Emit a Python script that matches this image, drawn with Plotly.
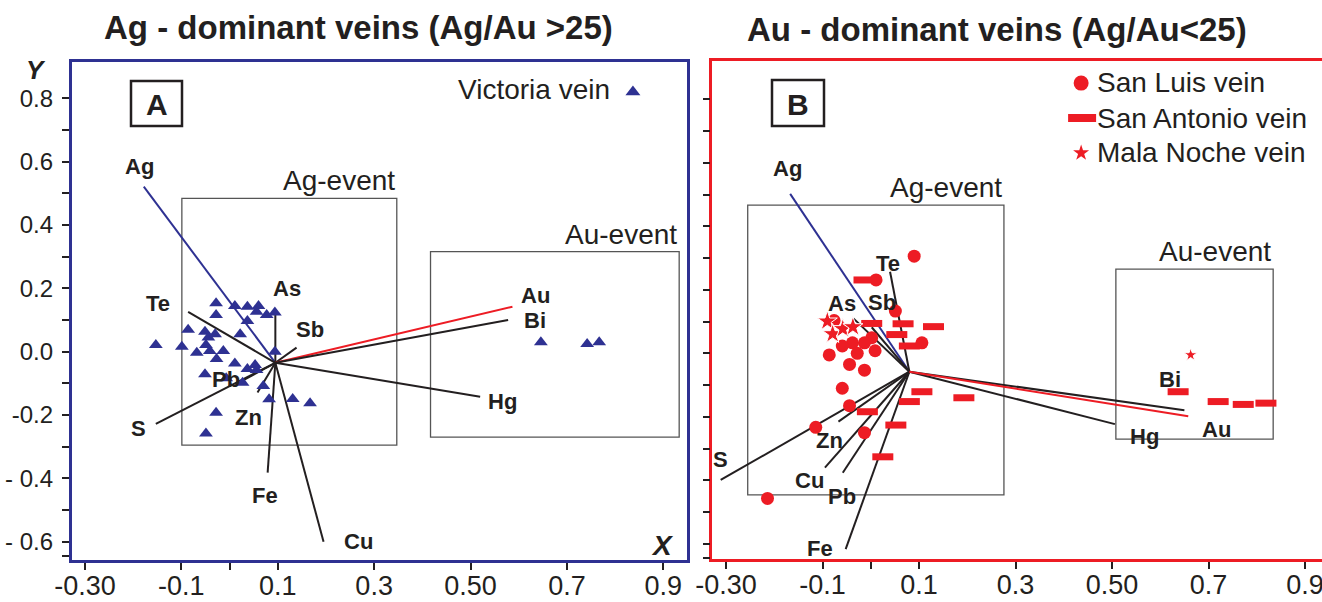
import plotly.graph_objects as go

W, H = 1322, 602
FONT = "Arial, Liberation Sans, sans-serif"
BLUE = "#2e3192"
RED = "#ed1c24"
INK = "#231f20"
BOXGREY = "#555555"

# ---------------- Panel A: Ag-dominant veins (Victoria vein) ----------------
victoria_x = [-0.153, -0.099, -0.086, -0.051, -0.044, -0.030, -0.028, -0.028, 0.011, 0.037,
              0.060, 0.056, 0.077, 0.094, 0.037, 0.022, -0.068, -0.041, -0.013, -0.049,
              -0.027, 0.011, 0.037, 0.053, 0.056, 0.094, -0.051, -0.007, 0.027, 0.070,
              0.082, 0.131, 0.167, -0.028, -0.049, 0.646, 0.742, 0.767]
victoria_y = [0.021, 0.016, 0.069, 0.063, 0.045, 0.055, 0.153, 0.116, 0.144, 0.142,
              0.144, 0.126, 0.116, 0.124, 0.097, 0.055, -0.003, 0.002, 0.002, 0.021,
              -0.023, -0.037, -0.055, -0.042, -0.058, 0.000, -0.071, -0.084, -0.098, -0.108,
              -0.150, -0.149, -0.163, -0.193, -0.258, 0.030, 0.024, 0.030]

# element loadings (vector tips) drawn from a common origin
a_origin = (0.095, -0.035)
a_elements = ["Ag", "Te", "As", "Sb", "Au", "Bi", "Hg", "Cu", "Fe", "Zn", "Pb", "S"]
a_tip_x = [-0.178, -0.086, 0.095, 0.139, 0.587, 0.578, 0.520, 0.195, 0.079, 0.058, 0.022, -0.153]
a_tip_y = [0.521, 0.126, 0.126, 0.013, 0.142, 0.100, -0.142, -0.600, -0.382, -0.129, -0.095, -0.228]
a_label_x = [-0.186, -0.148, 0.120, 0.167, 0.634, 0.634, 0.567, 0.267, 0.074, 0.040, -0.007, -0.189]
a_label_y = [0.586, 0.153, 0.200, 0.069, 0.176, 0.100, -0.158, -0.600, -0.455, -0.208, -0.089, -0.244]

# event fields [x0, x1, y0, y1]
a_ag_event = [-0.099, 0.347, -0.295, 0.484]
a_au_event = [0.417, 0.933, -0.270, 0.316]

# ---------------- Panel B: Au-dominant veins ----------------
san_luis_x = [0.090, 0.011, 0.051, -0.076, 0.002, -0.038, -0.013, -0.059, 0.009, -0.028,
              -0.086, 0.106, -0.044, -0.013, -0.059, -0.044, -0.114, -0.013, -0.214]
san_luis_y = [0.306, 0.231, 0.133, 0.103, 0.049, 0.033, 0.033, 0.023, 0.008, 0.000,
              -0.005, 0.033, -0.035, -0.053, -0.110, -0.165, -0.233, -0.250, -0.457]

san_antonio_x = [-0.014, 0.002, 0.067, 0.130, 0.054, 0.080, 0.106, 0.080, -0.007, 0.193,
                 0.052, 0.025, 0.637, 0.720, 0.772, 0.819]
san_antonio_y = [0.231, 0.094, 0.093, 0.084, 0.059, 0.023, -0.121, -0.152, -0.184, -0.140,
                 -0.226, -0.326, -0.121, -0.152, -0.161, -0.157]

mala_noche_x = [-0.090, -0.079, -0.058, -0.037, 0.663]
mala_noche_y = [0.101, 0.061, 0.077, 0.083, -0.005]

b_origin = (0.080, -0.058)
b_elements = ["Ag", "Te", "As", "Sb", "S", "Zn", "Cu", "Pb", "Fe", "Hg", "Bi", "Au"]
b_tip_x = [-0.167, 0.040, -0.036, 0.002, -0.311, -0.067, -0.095, -0.058, -0.052, 0.506, 0.650, 0.658]
b_tip_y = [0.502, 0.257, 0.110, 0.082, -0.399, -0.215, -0.360, -0.376, -0.617, -0.223, -0.179, -0.198]
b_label_x = [-0.173, 0.036, -0.060, 0.023, -0.311, -0.085, -0.126, -0.060, -0.105, 0.567, 0.620, 0.717]
b_label_y = [0.583, 0.283, 0.157, 0.159, -0.336, -0.276, -0.401, -0.452, -0.614, -0.263, -0.084, -0.239]

b_ag_event = [-0.255, 0.276, -0.446, 0.467]
b_au_event = [0.508, 0.834, -0.270, 0.265]

# axis ticks
x_tickvals = [-0.3, -0.1, 0.0, 0.1, 0.3, 0.5, 0.7, 0.9]
x_ticktext = ["-0.30", "-0.1", "", "0.1", "0.3", "0.50", "0.7", "0.9"]
y_tickvals = [0.8, 0.6, 0.4, 0.2, 0.0, -0.2, -0.4, -0.6]
y_ticktext = ["0.8", "0.6", "0.4", "0.2", "0.0", "-0.2", "- 0.4", "- 0.6"]
y_minor = [0.7, 0.5, 0.3, 0.1, -0.1, -0.3, -0.5, -0.645]
b_y_ticks = [0.8, 0.7, 0.6, 0.5, 0.4, 0.3, 0.2, 0.1, 0.0, -0.1, -0.2, -0.3, -0.4, -0.5, -0.6, -0.645]


def vec_color(name):
    if name == "Ag":
        return BLUE
    if name == "Au":
        return RED
    return INK


def px(xp):
    return xp / W


def py(yp):
    return 1 - yp / H


fig = go.Figure()


def paper_text(xp, yp, text, size, xanchor="center", bold=False):
    fig.add_annotation(x=px(xp), y=py(yp), xref="paper", yref="paper",
                       text=f"<b>{text}</b>" if bold else text, showarrow=False,
                       xanchor=xanchor, yanchor="middle",
                       font=dict(family=FONT, size=size, color=INK))


def add_vectors(xa, ya, origin, names, tx, ty, lx, ly):
    for n, ex, ey in zip(names, tx, ty):
        fig.add_trace(go.Scatter(
            x=[origin[0], ex], y=[origin[1], ey], mode="lines",
            line=dict(color=vec_color(n), width=2),
            xaxis=xa, yaxis=ya, showlegend=False, hoverinfo="skip"))
    for n, x, y in zip(names, lx, ly):
        fig.add_annotation(x=x, y=y, xref=xa, yref=ya, text=f"<b>{n}</b>",
                           showarrow=False, xanchor="center", yanchor="middle",
                           font=dict(family=FONT, size=22, color=INK))


def add_event_box(xa, ya, box, label):
    x0, x1, y0, y1 = box
    fig.add_shape(type="rect", x0=x0, x1=x1, y0=y0, y1=y1, xref=xa, yref=ya,
                  line=dict(color=BOXGREY, width=1.3), layer="below")
    fig.add_annotation(x=x1, y=y1, xref=xa, yref=ya, text=label, showarrow=False,
                       xanchor="right", yanchor="bottom", yshift=0,
                       font=dict(family=FONT, size=28, color=INK))


# Panel A
add_event_box("x", "y", a_ag_event, "Ag-event")
add_event_box("x", "y", a_au_event, "Au-event")
add_vectors("x", "y", a_origin, a_elements, a_tip_x, a_tip_y, a_label_x, a_label_y)
fig.add_trace(go.Scatter(x=victoria_x, y=victoria_y, mode="markers", xaxis="x", yaxis="y",
                         marker=dict(symbol="triangle-up", size=12, color=BLUE, opacity=1),
                         showlegend=False, hoverinfo="skip"))

# Panel B
add_event_box("x2", "y2", b_ag_event, "Ag-event")
add_event_box("x2", "y2", b_au_event, "Au-event")
add_vectors("x2", "y2", b_origin, b_elements, b_tip_x, b_tip_y, b_label_x, b_label_y)
fig.add_trace(go.Scatter(x=san_luis_x, y=san_luis_y, mode="markers", xaxis="x2", yaxis="y2",
                         marker=dict(symbol="circle", size=13, color=RED, opacity=1),
                         showlegend=False, hoverinfo="skip"))
fig.add_trace(go.Scatter(x=san_antonio_x, y=san_antonio_y, mode="markers", xaxis="x2", yaxis="y2",
                         marker=dict(symbol="line-ew", size=15, opacity=1,
                                     line=dict(color=RED, width=7)),
                         showlegend=False, hoverinfo="skip"))
fig.add_trace(go.Scatter(x=mala_noche_x, y=mala_noche_y, mode="markers", xaxis="x2", yaxis="y2",
                         marker=dict(symbol="star", size=[15, 15, 15, 15, 10], color=RED, opacity=1),
                         showlegend=False, hoverinfo="skip"))

# legend keys
fig.add_trace(go.Scatter(x=[0.837], y=[0.820], mode="markers", xaxis="x", yaxis="y",
                         marker=dict(symbol="triangle-up", size=13, color=BLUE, opacity=1),
                         showlegend=False, hoverinfo="skip"))
paper_text(612, 89, "Victoria vein", 28, xanchor="right")
fig.add_trace(go.Scatter(x=[0.436, 0.438, 0.436], y=[0.851, 0.741, 0.631], mode="markers",
                         xaxis="x2", yaxis="y2",
                         marker=dict(symbol=["circle", "line-ew", "star"], size=[15, 20, 12],
                                     color=RED, opacity=1, line=dict(color=RED, width=[0, 8, 0])),
                         showlegend=False, hoverinfo="skip"))
for yp, txt in [(83, "San Luis vein"), (118, "San Antonio vein"), (153, "Mala Noche vein")]:
    paper_text(1095, yp, txt, 28, xanchor="left")

# titles
paper_text(358, 28, "Ag - dominant veins (Ag/Au >25)", 33, bold=True)
paper_text(997, 30, "Au - dominant veins (Ag/Au<25)", 33, bold=True)

# axis letters
paper_text(36, 70, "<i>Y</i>", 26, bold=True)
paper_text(662, 545, "<i>X</i>", 28, bold=True)

# panel letters in boxes
for (x0, y0, x1, y1, letter) in [(131, 81, 182, 126, "A"), (772, 80, 824, 126, "B")]:
    fig.add_shape(type="rect", xref="paper", yref="paper", x0=px(x0), x1=px(x1),
                  y0=py(y1), y1=py(y0), line=dict(color=INK, width=2.5))
    paper_text((x0 + x1) / 2, (y0 + y1) / 2 + 1, letter, 30, bold=True)

tickfont_x = dict(family=FONT, size=27, color=INK)
tickfont_y = dict(family=FONT, size=24, color=INK)
common = dict(showgrid=False, zeroline=False, showline=True, mirror=True, automargin=False,
              ticks="outside", ticklen=7, tickwidth=2, tickcolor=INK, linewidth=2.5,
              ticklabeloverflow="allow")

fig.update_layout(
    width=W, height=H, margin=dict(l=0, r=0, t=0, b=0, pad=0, autoexpand=False),
    paper_bgcolor="white", plot_bgcolor="white", showlegend=False,
    xaxis=dict(domain=[px(71.7), px(686.7)], range=[-0.3276, 0.9486], anchor="y",
               linecolor=BLUE, tickvals=x_tickvals, ticktext=x_ticktext, tickfont=tickfont_x,
               ticklabelstandoff=-7, **common),
    yaxis=dict(domain=[py(560), py(61.7)], range=[-0.6577, 0.9157], anchor="x",
               linecolor=BLUE, tickvals=y_tickvals, ticktext=y_ticktext, tickfont=tickfont_y,
               ticklabelstandoff=4,
               minor=dict(tickvals=y_minor, ticks="outside", ticklen=7, tickwidth=2, tickcolor=INK),
               **common),
    xaxis2=dict(domain=[px(712.3), 1.0], range=[-0.3284, 0.9352], anchor="y2",
                linecolor=RED, tickvals=x_tickvals, ticktext=x_ticktext, tickfont=tickfont_x,
                ticklabelstandoff=-7, **common),
    yaxis2=dict(domain=[py(559.3), py(60.7)], range=[-0.6488, 0.9216], anchor="x2",
                linecolor=RED, tickvals=b_y_ticks, showticklabels=False, **common),
)

fig.write_html("out.html")
